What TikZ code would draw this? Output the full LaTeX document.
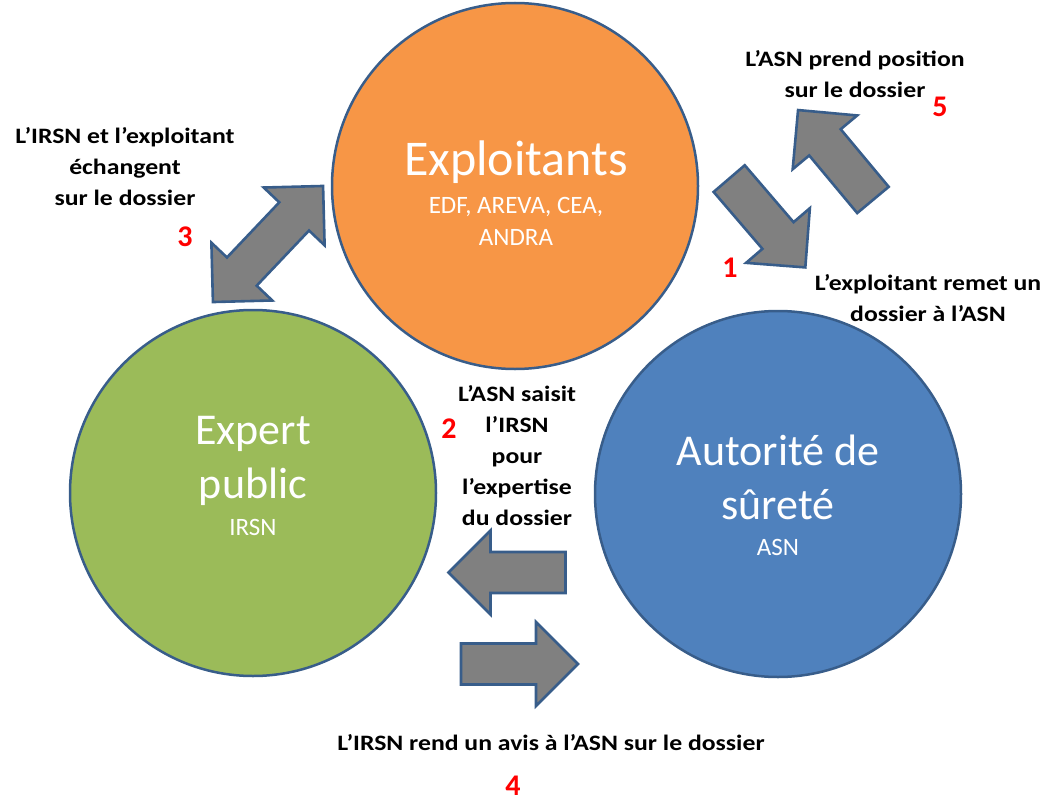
\documentclass[tikz,border=0pt]{standalone}
\usepackage{fontspec}
\setmainfont{Carlito}
\newfontfamily\labfont{Carlito}[FakeStretch=1.17]
\definecolor{orangeC}{HTML}{F79646}
\definecolor{greenC}{HTML}{9BBB59}
\definecolor{blueC}{HTML}{4F81BD}
\definecolor{edgeC}{HTML}{385D8A}
\definecolor{arrowC}{HTML}{808080}
\tikzset{
  bigcirc/.style={circle, draw=edgeC, line width=2.5pt, minimum size=366pt, inner sep=0pt},
  blockarrow/.style={draw=edgeC, fill=arrowC, line width=2.6pt, line join=miter},
  title/.style={text=white, anchor=base, align=center, inner sep=0pt, font=\fontsize{44}{53.5}\selectfont},
  subt/.style={text=white, anchor=base, align=center, inner sep=0pt, font=\fontsize{25}{32}\selectfont},
  lab/.style={anchor=base, align=center, inner sep=0pt, font=\labfont\bfseries\fontsize{22}{31}\selectfont},
  num/.style={anchor=base, inner sep=0pt, text=red, font=\bfseries\fontsize{30}{32}\selectfont}
}
\newcommand\singlearrow[3]{%
  \begin{scope}[shift={(#1,#2)}, rotate=#3]
    \draw[blockarrow] (-58.5,-20.5) -- (16.5,-20.5) -- (16.5,-42) -- (58.5,0)
      -- (16.5,42) -- (16.5,20.5) -- (-58.5,20.5) -- cycle;
  \end{scope}}
\newcommand\doublearrow[3]{%
  \begin{scope}[shift={(#1,#2)}, rotate=#3]
    \draw[blockarrow] (-38,-20.5) -- (38,-20.5) -- (38,-42) -- (80,0)
      -- (38,42) -- (38,20.5) -- (-38,20.5) -- (-38,42) -- (-80,0) -- (-38,-42) -- cycle;
  \end{scope}}
\begin{document}
\begin{tikzpicture}[x=1pt, y=-1pt]
\useasboundingbox (0,0) rectangle (1044,800);
% circles
\node[bigcirc, fill=orangeC] (expl) at (515,186) {};
\node[bigcirc, fill=greenC] (irsn) at (253,493) {};
\node[bigcirc, fill=blueC] (asn) at (778,494) {};
% circle texts (anchor base = last line)
\node[title, font=\fontsize{50}{60}\selectfont] (explT) at (516,175) {Exploitants};
\node[subt] (explS) at (516,245) {EDF, AREVA, CEA,\\ANDRA};
\node[title] (irsnT) at (253,498) {Expert\\public};
\node[subt] (irsnS) at (253,535) {IRSN};
\node[title] (asnT) at (778,519) {Autorité de\\sûreté};
\node[subt] (asnS) at (778,555) {ASN};
% block arrows
\doublearrow{268}{244}{46.5}
\singlearrow{767.25}{223}{-49.4}
\singlearrow{835.5}{155}{129.8}
\singlearrow{507}{572.5}{180}
\singlearrow{519.5}{664}{0}
% labels
\node[lab] (l3) at (125,205) {L’IRSN et l’exploitant\\échangent\\sur le dossier};
\node[lab] (l5) at (855,97) {L’ASN prend position\\sur le dossier};
\node[lab] (l1) at (928,321) {L’exploitant remet un\\dossier à l’ASN};
\node[lab] (l2) at (517,525) {L’ASN saisit\\l’IRSN\\pour\\l’expertise\\du dossier};
\node[lab] (l4) at (551,750) {L’IRSN rend un avis à l’ASN sur le dossier};
% numbers
\node[num] (n3) at (185,246) {3};
\node[num] (n5) at (940,116) {5};
\node[num] (n1) at (730,277) {1};
\node[num] (n2) at (449,438) {2};
\node[num] (n4) at (513,795) {4};
\end{tikzpicture}
\end{document}
